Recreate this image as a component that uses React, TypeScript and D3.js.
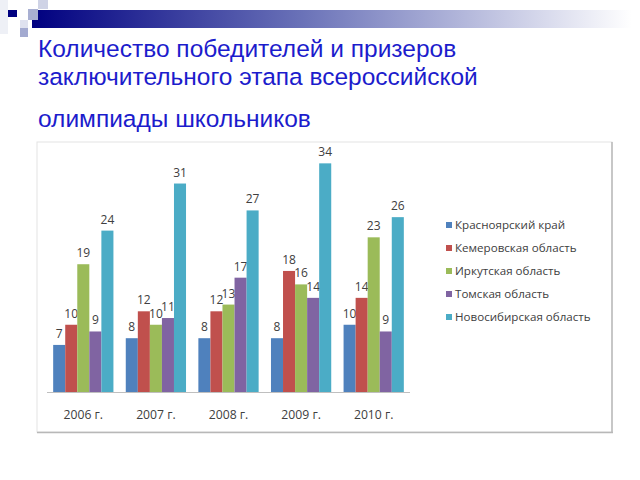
import React from "react";
import * as d3 from "d3";

const years = ["2006 г.", "2007 г.", "2008 г.", "2009 г.", "2010 г."];
const regions = [
  "Красноярский край",
  "Кемеровская область",
  "Иркутская область",
  "Томская область",
  "Новосибирская область",
];
const krasnoyarsk = [7, 8, 8, 8, 10];
const kemerovo = [10, 12, 12, 18, 14];
const irkutsk = [19, 10, 13, 16, 23];
const tomsk = [9, 11, 17, 14, 9];
const novosibirsk = [24, 31, 27, 34, 26];
const seriesValues = [krasnoyarsk, kemerovo, irkutsk, tomsk, novosibirsk];
const colors = ["#4F81BD", "#C0504D", "#9BBB59", "#8064A2", "#4BACC6"];
const titleLines = [
  "Количество победителей и призеров",
  "заключительного этапа всероссийской",
  "олимпиады школьников",
];

export default function App() {
  const W = 640, H = 480;
  const baseY = 392;
  const x0 = d3.scaleBand<string>().domain(years).range([47, 410]).paddingInner(0.17).paddingOuter(0.085);
  const x1 = d3.scaleBand<string>().domain(regions).range([0, x0.bandwidth()]).padding(0);
  const y = d3.scaleLinear().domain([0, 40]).range([baseY, baseY - 269]);
  const labelFont = "'Open Sans', 'DejaVu Sans', sans-serif";
  const titleBaselines = [57, 85, 127];

  return (
    <svg width={W} height={H} style={{ position: "absolute", left: 0, top: 0 }}>
      <defs>
        <linearGradient id="topbar" x1="0" x2="1" y1="0" y2="0">
          <stop offset="0" stopColor="#000080" />
          <stop offset="0.45" stopColor="#6a72b8" />
          <stop offset="1" stopColor="#ffffff" />
        </linearGradient>
      </defs>
      <rect x={0} y={0} width={W} height={H} fill="#ffffff" />
      {/* decoration */}
      <rect x={32} y={10} width={600} height={18} fill="url(#topbar)" />
      <rect x={0} y={0} width={8} height={34} fill="#eef0f6" />
      <rect x={38} y={0} width={10} height={9} fill="#cfd3e6" />
      <rect x={28} y={9} width={10} height={11} fill="#a9b0d2" />
      <rect x={8} y={10} width={9} height={7} fill="#000080" />
      <rect x={20} y={20} width={8} height={8} fill="#dfe2ef" />
      <rect x={20} y={28} width={8} height={9} fill="#a3aad0" />
      {/* title */}
      {titleLines.map((t, i) => (
        <text key={i} x={38} y={titleBaselines[i]} fontFamily="'Liberation Sans', Arial, sans-serif" fontSize={24.5} fill="#1c1ccc">
          {t}
        </text>
      ))}
      {/* chart frame */}
      <rect x={37} y={142} width={575} height={290} fill="#ffffff" stroke="#e3e3e3" strokeWidth={1} />
      <line x1={612} y1={142} x2={612} y2={433} stroke="#b8b8b8" strokeWidth={1.5} />
      <line x1={37} y1={432.5} x2={613} y2={432.5} stroke="#b8b8b8" strokeWidth={1.5} />
      {/* bars */}
      {years.map((yr, gi) => (
        <g key={yr} transform={`translate(${x0(yr)},0)`}>
          {regions.map((r, si) => {
            const v = seriesValues[si][gi];
            const bx = x1(r)!;
            return (
              <g key={r}>
                <rect x={bx} y={y(v)} width={x1.bandwidth()} height={baseY - y(v)} fill={colors[si]} />
                <text x={bx + x1.bandwidth() / 2} y={y(v) - 7} textAnchor="middle" fontFamily={labelFont} fontSize={12} fill="#404040">
                  {v}
                </text>
              </g>
            );
          })}
        </g>
      ))}
      <line x1={47} x2={410} y1={baseY + 0.5} y2={baseY + 0.5} stroke="#bfbfbf" />
      {years.map((yr) => (
        <text key={yr} x={x0(yr)! + x0.bandwidth() / 2} y={418.5} textAnchor="middle" fontFamily={labelFont} fontSize={12.2} fill="#404040">
          {yr}
        </text>
      ))}
      {/* legend */}
      {regions.map((r, i) => (
        <g key={r} transform={`translate(446,${225 + i * 23})`}>
          <rect x={0} y={-3} width={6} height={6} fill={colors[i]} />
          <text x={9} y={4} fontFamily={labelFont} fontSize={11.6} fill="#404040">
            {r}
          </text>
        </g>
      ))}
    </svg>
  );
}
